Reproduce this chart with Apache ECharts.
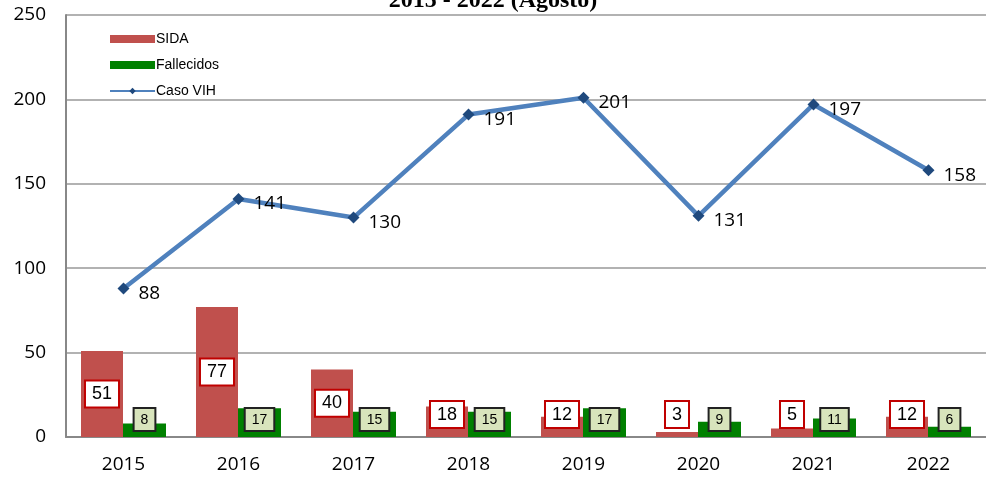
<!DOCTYPE html>
<html>
<head>
<meta charset="utf-8">
<script src="https://cdn.jsdelivr.net/npm/echarts@6/dist/echarts.min.js"></script>
<style>
  html, body { margin: 0; padding: 0; background: #fff; }
  #chart { width: 986px; height: 479px; }
</style>
</head>
<body>
<div id="chart"></div>
<script>
const years = ['2015', '2016', '2017', '2018', '2019', '2020', '2021', '2022']
const sida = [51, 77, 40, 18, 12, 3, 5, 12]
const fallecidos = [8, 17, 15, 15, 17, 9, 11, 6]
const casoVih = [88, 141, 130, 191, 201, 131, 197, 158]

const chart = echarts.init(document.getElementById('chart'))

// etiquetas SIDA: centradas en barras altas, sobre el eje en las bajas
const sidaData = sida.map(v => ({
  value: v,
  label: v >= 30 ? { position: 'inside' } : { position: 'insideBottom', distance: 10 }
}))

chart.setOption({
  backgroundColor: '#fff',
  animation: false,
  title: {
    text: '2015 - 2022 (Agosto)',
    left: 'center',
    top: -16,
    textStyle: { fontFamily: 'Liberation Serif', fontWeight: 'bold', fontSize: 24, color: '#000' }
  },
  legend: {
    orient: 'vertical',
    left: 104,
    top: 27,
    itemWidth: 45,
    itemHeight: 8,
    itemGap: 12,
    textStyle: { fontFamily: 'Liberation Sans', fontSize: 14, color: '#000', padding: [0, 0, 0, -4] },
    data: [
      { name: 'SIDA', icon: 'rect' },
      { name: 'Fallecidos', icon: 'rect' },
      { name: 'Caso VIH' }
    ]
  },
  grid: { left: 66, right: -2, top: 15, bottom: 42, containLabel: false },
  xAxis: {
    type: 'category',
    data: years,
    axisTick: { show: false },
    axisLine: { lineStyle: { color: '#888', width: 2 } },
    axisLabel: { color: '#000', fontFamily: 'Open Sans', fontSize: 19, margin: 18 }
  },
  yAxis: {
    type: 'value',
    min: 0,
    max: 250,
    interval: 50,
    axisLine: { show: true, lineStyle: { color: '#888', width: 2 } },
    axisTick: { show: false },
    splitLine: { lineStyle: { color: '#999', width: 1.5 } },
    axisLabel: { color: '#000', fontFamily: 'Open Sans', fontSize: 19, margin: 20 }
  },
  series: [
    {
      name: 'SIDA',
      type: 'bar',
      data: sidaData,
      barWidth: 42,
      barGap: '0%',
      itemStyle: { color: '#c0504d' },
      label: {
        show: true,
        color: '#000',
        fontFamily: 'Liberation Sans',
        fontSize: 18,
        backgroundColor: '#fff',
        borderColor: '#c00000',
        borderWidth: 2,
        padding: [4, 6, 3, 6]
      }
    },
    {
      name: 'Fallecidos',
      type: 'bar',
      data: fallecidos,
      barWidth: 43,
      barGap: '0%',
      itemStyle: { color: '#008000' },
      label: {
        show: true,
        position: 'insideBottom',
        distance: 7,
        color: '#000',
        fontFamily: 'Liberation Sans',
        fontSize: 14,
        backgroundColor: '#d8e4bc',
        borderColor: '#222',
        borderWidth: 2,
        padding: [4, 6, 3, 6]
      }
    },
    {
      name: 'Caso VIH',
      type: 'line',
      data: casoVih,
      symbol: 'diamond',
      symbolSize: 12,
      lineStyle: { color: '#4f81bd', width: 4.5 },
      itemStyle: { color: '#1f497d' },
      label: {
        show: true,
        position: 'right',
        offset: [4, 5],
        color: '#000',
        fontFamily: 'Open Sans',
        fontSize: 19
      },
      z: 5
    }
  ]
})
</script>
</body>
</html>
